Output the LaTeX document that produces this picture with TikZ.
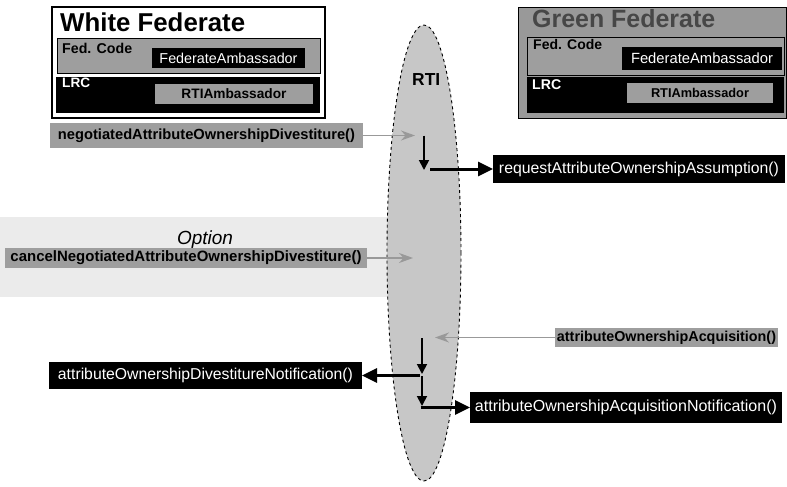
\documentclass[tikz,border=0pt]{standalone}
\usepackage{fontspec}
\setmainfont{Liberation Sans}
\usetikzlibrary{shapes.geometric,arrows.meta}
\newcommand{\fw}[2]{\resizebox{#1pt}{!}{#2}}
\begin{document}
\begin{tikzpicture}[x=1pt,y=-1pt,
  box/.style={rectangle,inner sep=0pt,outer sep=0pt},
  blackbox/.style={box,fill=black,text=white},
  graybox/.style={box,fill=black!38,text=black},
  lbl/.style={inner sep=0pt,anchor=base west},
  thickarr/.style={line width=3pt,-{Triangle[length=15pt,width=14pt]}},
  thinarr/.style={line width=1.8pt,-{Triangle[length=10pt,width=10pt]}},
  grayarr/.style={draw=black!40,line width=1.4pt,-{Stealth[length=14pt,width=10pt]}}]
\useasboundingbox (0,0) rectangle (787,487);
\fill[white] (0,0) rectangle (787,487);

% option band
\node[box,fill=black!8,minimum width=410,minimum height=80] (band) at (205,257) {};

% RTI ellipse
\node[ellipse,draw,dashed,line width=0.9pt,fill=black!22,minimum width=74,minimum height=456,inner sep=0] (rti) at (424,253) {};
\node[lbl] (rtil) at (412,85) {\fw{28}{\bfseries RTI}};

% White federate
\node[box,draw,line width=1.2pt,fill=white,minimum width=273,minimum height=111] (wf) at (188.5,62.5) {};
\node[lbl] (wft) at (60,32) {\fw{185}{\bfseries White Federate}};
\node[graybox,draw,line width=0.8pt,minimum width=263,minimum height=35] (wffc) at (188.5,55.5) {};
\node[lbl] (wffcl) at (62,53) {\fw{70}{\bfseries Fed. Code}};
\node[blackbox,minimum width=153,minimum height=20] (wffa) at (228.5,58) {\fw{138}{FederateAmbassador}};
\node[blackbox,minimum width=264,minimum height=36] (wflrc) at (188,95) {};
\node[lbl,text=white] (wflrcl) at (62,88) {\fw{28}{\bfseries LRC}};
\node[graybox,minimum width=158,minimum height=20] (wfrti) at (234,94) {\fw{105}{\bfseries RTIAmbassador}};

% Green federate
\node[box,draw,line width=0.8pt,fill=black!40,minimum width=268,minimum height=111] (gf) at (652,62.5) {};
\node[lbl,text=black!72] (gft) at (532,28) {\fw{183}{\bfseries Green Federate}};
\node[graybox,draw,line width=0.8pt,minimum width=257,minimum height=38] (gffc) at (655.5,56) {};
\node[lbl] (gffcl) at (533,50) {\fw{69}{\bfseries Fed. Code}};
\node[blackbox,minimum width=160,minimum height=23] (gffa) at (702,58.5) {\fw{142}{FederateAmbassador}};
\node[blackbox,minimum width=257,minimum height=36] (gflrc) at (655.5,95) {};
\node[lbl,text=white] (gflrcl) at (532,89) {\fw{29}{\bfseries LRC}};
\node[graybox,minimum width=146,minimum height=20] (gfrti) at (700,93) {\fw{98}{\bfseries RTIAmbassador}};

% messages
\node[graybox,minimum width=313,minimum height=25] (neg) at (206.5,135.5) {\fw{297}{\bfseries negotiatedAttributeOwnershipDivestiture()}};
\node[inner sep=0] (opt) at (205,240) {\fw{56}{\itshape Option}};
\node[graybox,minimum width=362,minimum height=20] (cancel) at (186,258) {\fw{351}{\bfseries cancelNegotiatedAttributeOwnershipDivestiture()}};
\node[blackbox,minimum width=292,minimum height=28] (req) at (639,169) {\fw{280}{requestAttributeOwnershipAssumption()}};
\node[graybox,minimum width=223,minimum height=19] (acq) at (666.5,337.5) {\fw{219}{\bfseries attributeOwnershipAcquisition()}};
\node[blackbox,minimum width=313,minimum height=27] (divn) at (205.5,375.5) {\fw{295}{attributeOwnershipDivestitureNotification()}};
\node[blackbox,minimum width=312,minimum height=31] (acqn) at (626,407.5) {\fw{302}{attributeOwnershipAcquisitionNotification()}};

% coordinates inside RTI
\coordinate (n1) at (415,135.5);
\coordinate (v1a) at (424,135.5);
\coordinate (v1b) at (424,170);
\coordinate (h1) at (430,169);
\coordinate (n2) at (413,258);
\coordinate (n3) at (435,337.5);
\coordinate (v2a) at (422,338);
\coordinate (v2b) at (422,374);
\coordinate (h2) at (420,375.5);
\coordinate (v3a) at (422,376);
\coordinate (v3b) at (422,406);
\coordinate (h3) at (420.5,407.5);

% connectors
\draw[grayarr] (neg.east) -- (n1);
\draw[thinarr] (v1a) -- (v1b);
\draw[thickarr] (h1) -- (req.west);
\draw[grayarr] (cancel.east) -- (n2);
\draw[grayarr] (acq.west) -- (n3);
\draw[thinarr] (v2a) -- (v2b);
\draw[thickarr] (h2) -- (divn.east);
\draw[thinarr] (v3a) -- (v3b);
\draw[thickarr] (h3) -- (acqn.west);
\end{tikzpicture}
\end{document}
